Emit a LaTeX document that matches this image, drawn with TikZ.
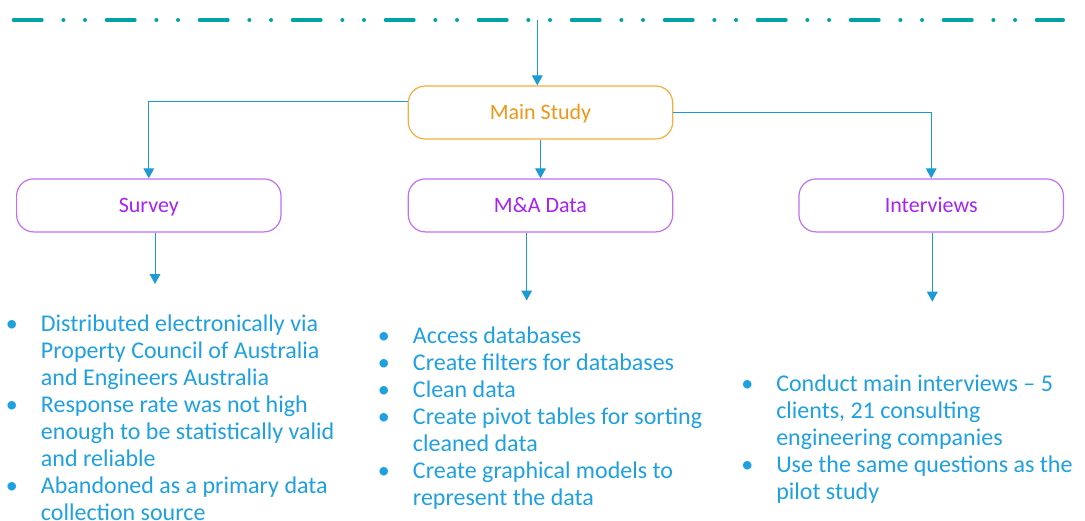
\documentclass[tikz,border=0pt]{standalone}
\usepackage{fontspec}
\setmainfont{Carlito}
\usetikzlibrary{arrows.meta}

\definecolor{rail}{RGB}{0,163,163}
\definecolor{wireblue}{RGB}{27,154,214}
\definecolor{listblue}{RGB}{30,160,225}
\definecolor{mainorange}{RGB}{240,150,20}
\definecolor{mainedge}{RGB}{247,172,60}
\definecolor{branchpurple}{RGB}{165,35,245}
\definecolor{branchedge}{RGB}{195,110,245}

% bullet hanging to the left of the text column
\newcommand\blt{\leavevmode\llap{\makebox[0pt][c]{\textbullet}\hspace{21.75pt}}}
\newenvironment{steplist}[1]{\begin{minipage}[t]{#1}\raggedright\fontsize{18pt}{20.3pt}\selectfont}{\end{minipage}}

\tikzset{
  mainbox/.style={draw=mainedge, line width=0.9pt, rounded corners=12.75pt,
    minimum width=198.3pt, minimum height=39.75pt, inner sep=0pt,
    text=mainorange, font=\fontsize{16.5pt}{19pt}\selectfont,
    text height=10.6pt, text depth=0pt},
  branchbox/.style={mainbox, draw=branchedge, text=branchpurple},
  link/.style={draw=wireblue, line width=0.75pt, -{Triangle[width=8pt,length=7.5pt]}},
  listtext/.style={inner sep=0pt, anchor=base west, text=listblue},
  railline/.style={draw=rail, line width=3pt, line cap=round,
    dash pattern=on 21pt off 16.25pt on 0pt off 16.25pt on 0pt off 16.25pt}
}

\begin{document}
\begin{tikzpicture}[x=0.75pt,y=-0.75pt]
\useasboundingbox (0,0) rectangle (1085,521);

% dash-dot-dot rail across the top
\coordinate (railstart) at (13.7,20);
\coordinate (railend) at (1063,20);
\draw[railline] (railstart) -- (railend);

% boxes
\node[mainbox] (main) at (540.5,112.5) {Main Study};
\node[branchbox] (survey) at (148.8,205.4) {Survey};
\node[branchbox] (mna) at (540.5,205.4) {M\&A Data};
\node[branchbox] (interviews) at (931.2,205.4) {Interviews};

% connectors
\coordinate (railtap) at (537.3,20);
\draw[link] (railtap) -- (railtap |- main.north);
\draw[link] ([yshift=8.6pt]main.west) -| (survey.north);
\draw[link] (main.east) -| (interviews.north);
\draw[link] (main.south) -- (mna.north);

% arrows down to the lists
\coordinate (surveyend) at (155,284);
\coordinate (mnaend) at (526.7,300.5);
\coordinate (interviewsend) at (932.3,301.7);
\draw[link] (survey.south -| surveyend) -- (surveyend);
\draw[link] (mna.south -| mnaend) -- (mnaend);
\draw[link] (interviews.south -| interviewsend) -- (interviewsend);

% lists
\node[listtext] (surveylist) at (40.7,331) {\begin{steplist}{260pt}%
\blt Distributed electronically via\\
Property Council of Australia\\
and Engineers Australia\\
\blt Response rate was not high\\
enough to be statistically valid\\
and reliable\\
\blt Abandoned as a primary data\\
collection source\end{steplist}};

\node[listtext] (mnalist) at (412.7,343.3) {\begin{steplist}{260pt}%
\blt Access databases\\
\blt Create filters for databases\\
\blt Clean data\\
\blt Create pivot tables for sorting\\
cleaned data\\
\blt Create graphical models to\\
represent the data\end{steplist}};

\node[listtext] (interviewslist) at (776,391.7) {\begin{steplist}{260pt}%
\blt Conduct main interviews -- 5\\
clients, 21 consulting\\
engineering companies\\
\blt Use the same questions as the\\
pilot study\end{steplist}};

\end{tikzpicture}
\end{document}
